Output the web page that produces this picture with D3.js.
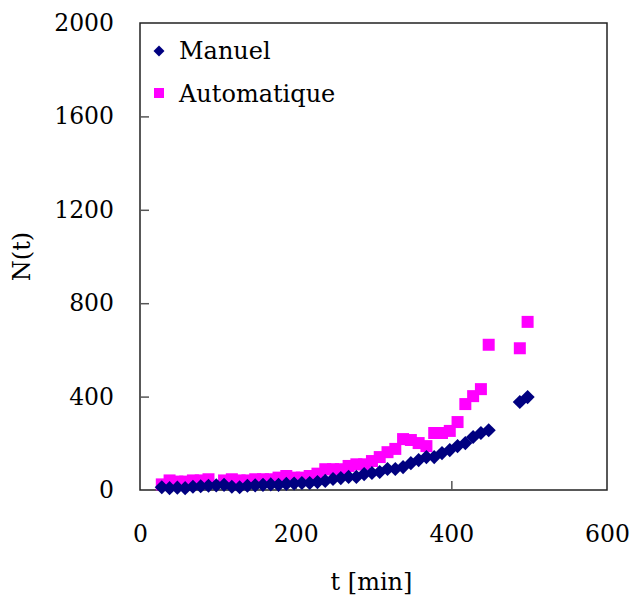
<!DOCTYPE html>
<html>
<head>
<meta charset="utf-8">
<script src="https://cdn.jsdelivr.net/npm/d3@7"></script>
<style>
  body { margin: 0; background: #fff; }
  svg text { font-family: "DejaVu Serif", serif; fill: #000; }
</style>
</head>
<body>
<svg id="chart" width="631" height="601"></svg>
<script>
// t in minutes, N(t)
var manuelT = [28, 38, 48, 58, 68, 78, 88, 98, 108, 118, 128, 138, 148, 158, 168, 178, 188, 198, 208, 218,
  228, 238, 248, 258, 268, 278, 288, 298, 308, 318, 328, 338, 348, 358, 368, 378, 388, 398, 408, 418,
  428, 438, 448, 488, 498];
var manuelN = [12, 8, 10, 8, 14, 16, 18, 20, 22, 14, 12, 18, 20, 22, 24, 22, 26, 28, 30, 30,
  34, 39, 47, 51, 56, 56, 68, 73, 77, 90, 90, 98, 115, 128, 141, 141, 158, 171, 188, 201,
  227, 244, 256, 377, 398];

var autoT = [28, 38, 48, 58, 68, 78, 88, 108, 118, 128, 138, 148, 158, 168, 178, 188, 198, 208, 218,
  228, 238, 248, 258, 268, 278, 288, 298, 308, 318, 328, 338, 348, 358, 368, 378, 388, 398, 408, 418,
  428, 438, 448, 488, 498];
var autoN = [24, 41, 36, 36, 41, 41, 46, 41, 46, 41, 41, 46, 46, 46, 53, 60, 53, 53, 60,
  70, 89, 89, 89, 103, 110, 110, 124, 141, 162, 176, 218, 214, 201, 188, 244, 244, 253, 291, 368,
  402, 432, 622, 607, 720];

var xTicks = [0, 200, 400, 600];
var yTicks = [0, 400, 800, 1200, 1600, 2000];

var svg = d3.select("#chart");
var m = {left: 140, right: 607, top: 23, bottom: 490};

var x = d3.scaleLinear().domain([0, 600]).range([m.left, m.right]);
var y = d3.scaleLinear().domain([0, 2000]).range([m.bottom, m.top]);

// plot frame
svg.append("rect")
  .attr("x", m.left).attr("y", m.top)
  .attr("width", m.right - m.left).attr("height", m.bottom - m.top)
  .attr("fill", "none").attr("stroke", "#222").attr("stroke-width", 1.5);

// inward ticks + labels via axes
var yAxis = d3.axisLeft(y).tickValues(yTicks).tickSize(-9).tickPadding(26)
  .tickFormat(d3.format("d"));
var gy = svg.append("g").attr("transform", "translate(" + m.left + ",0)").call(yAxis);
var xAxis = d3.axisBottom(x).tickValues(xTicks).tickSize(-9).tickPadding(35)
  .tickFormat(d3.format("d"));
var gx = svg.append("g").attr("transform", "translate(0," + m.bottom + ")").call(xAxis);

[gx, gy].forEach(function(g) {
  g.select(".domain").remove();
  g.selectAll(".tick line").attr("stroke", "#555").attr("stroke-width", 1.5);
  g.selectAll(".tick text").style("font-size", "23.5px").attr("fill", "#000");
});
gy.selectAll(".tick line").filter(function(d) { return d === 0 || d === 2000; }).remove();
gx.selectAll(".tick line").filter(function(d) { return d === 0 || d === 600; }).remove();

// axis titles
svg.append("text")
  .attr("x", x(300) - 2).attr("y", 590)
  .attr("text-anchor", "middle").style("font-size", "24px")
  .text("t [min]");
svg.append("text")
  .attr("transform", "translate(30," + y(1000) + ") rotate(-90)")
  .attr("text-anchor", "middle").style("font-size", "24px")
  .text("N(t)");

var diamond = d3.symbol().type(d3.symbolSquare).size(100);
var square = d3.symbol().type(d3.symbolSquare).size(144);

// Automatique (squares) drawn first, Manuel on top
svg.append("g").selectAll("path")
  .data(d3.zip(autoT, autoN))
  .enter().append("path")
  .attr("d", square)
  .attr("transform", function(d) { return "translate(" + x(d[0]) + "," + y(d[1]) + ")"; })
  .attr("fill", "#ff00ff");

svg.append("g").selectAll("path")
  .data(d3.zip(manuelT, manuelN))
  .enter().append("path")
  .attr("d", diamond)
  .attr("transform", function(d) { return "translate(" + x(d[0]) + "," + y(d[1]) + ") rotate(45)"; })
  .attr("fill", "#000080");

// legend
var legend = svg.append("g");
legend.append("path")
  .attr("d", d3.symbol().type(d3.symbolSquare).size(60))
  .attr("transform", "translate(159,51) rotate(45)")
  .attr("fill", "#000080");
legend.append("text").attr("x", 179).attr("y", 59).style("font-size", "24px").text("Manuel");
legend.append("path")
  .attr("d", d3.symbol().type(d3.symbolSquare).size(100))
  .attr("transform", "translate(159,93)")
  .attr("fill", "#ff00ff");
legend.append("text").attr("x", 179).attr("y", 102).style("font-size", "24px").text("Automatique");
</script>
</body>
</html>
